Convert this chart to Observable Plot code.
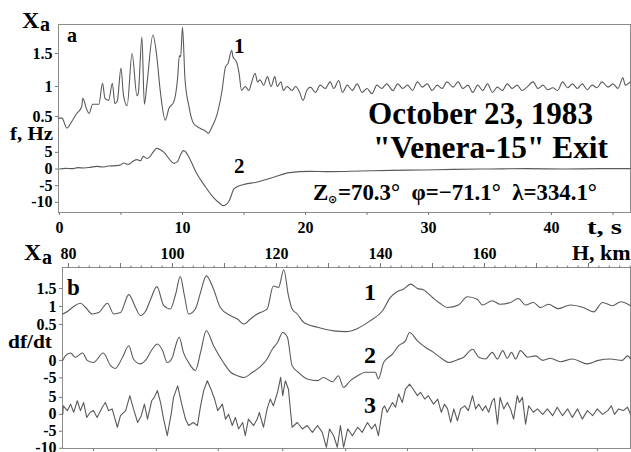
<!DOCTYPE html>
<html><head><meta charset="utf-8">
<script src="https://cdn.jsdelivr.net/npm/d3@7"></script>
<script src="https://cdn.jsdelivr.net/npm/@observablehq/plot@0.6"></script>
<style>
html,body{margin:0;padding:0;background:#fff;}
#wrap{position:relative;width:631px;height:452px;overflow:hidden;background:#fff;}
#wrap svg{position:absolute;left:0;}
</style></head><body><div id="wrap"></div>
<script>
// ---------- Panel a: curve 1 (Xa vs t, s) ----------
const aT1 = [-0.1,0.2,0.6,1.0,1.4,1.8,1.9,2.2,2.4,2.7,3.2,3.5,3.7,4.0,4.3,4.5,4.7,5.0,5.2,5.5,5.9,6.3,6.4,6.7,6.9,7.1,7.6,7.9,8.2,8.6,8.9,9.3,9.6,9.75,9.85,10.0,10.2,10.5,10.9,11.5,11.9,12.1,12.4,12.8,13.2,13.5,13.7,14.0,14.1,14.4,14.6,14.8,15.1,15.4,15.6,15.9,16.1,16.3,16.6,16.9,17.2,17.5,17.7,18.0,18.2,18.5,18.9,19.2,19.5,19.8,20.1,20.4,20.8,21.2,21.6,22.0,22.3,22.7,23.0,23.4,23.8,24.2,24.6,25.0,25.4,25.8,26.2,26.6,27.1,27.5,27.9,28.3,28.7,29.1,29.5,29.9,30.3,30.7,31.1,31.5,32.0,32.4,32.8,33.2,33.6,34.0,34.4,34.8,35.2,35.6,36.0,36.4,36.8,37.2,37.6,38.0,38.5,38.9,39.3,39.7,40.1,40.5,40.9,41.3,41.7,42.1,42.5,42.9,43.3,43.7,44.1,44.6,45.0,45.4,45.8,46.0,46.4];
const aX1 = [0.52,0.52,0.37,0.47,0.59,0.69,0.82,0.66,0.59,0.73,0.73,1.05,0.82,0.79,1.05,0.74,0.78,1.28,0.87,0.71,1.50,0.86,0.89,1.75,0.73,1.02,1.78,1.47,0.92,0.49,0.67,0.77,1.12,1.47,1.45,1.90,1.12,0.72,0.44,0.36,0.32,0.29,0.39,0.57,0.92,1.30,1.35,1.55,1.45,1.37,1.20,0.94,1.00,0.94,1.05,1.20,1.07,1.10,1.02,1.15,1.00,1.15,1.00,1.07,0.94,1.00,0.94,1.00,0.92,0.79,0.94,0.99,0.91,1.02,0.97,1.07,0.97,1.09,0.91,1.02,0.94,1.04,0.91,0.97,0.89,1.02,0.97,1.04,0.94,1.04,0.97,1.02,0.94,1.07,0.99,1.04,0.94,1.02,0.97,1.07,0.99,1.07,0.97,1.02,0.91,1.02,0.94,1.04,0.91,0.99,0.94,1.04,0.97,1.02,0.94,0.99,1.07,0.97,1.02,0.95,0.98,0.94,1.07,0.98,1.04,0.97,1.04,0.95,1.02,0.98,1.07,0.99,1.04,0.97,1.13,1.02,1.07];
// ---------- Panel a: curve 2 (f, Hz vs t, s) ----------
const aT2 = [0,0.5,1.0,1.5,2.0,2.5,3.0,3.5,4.0,4.6,5.0,5.2,5.6,6.0,6.3,6.6,6.8,7.1,7.3,7.6,7.9,8.2,8.5,8.9,9.3,9.6,9.8,10.1,10.6,11.1,11.8,12.5,13.0,13.3,13.8,14.2,14.9,16.0,17.4,18.7,20.3,22.0,24.5,27.0,29.5,32.0,35.0,38.0,41.0,44.0,46.4];
const aF2 = [0.0,0.2,0.1,0.4,0.3,0.5,0.8,0.6,0.9,1.0,1.3,1.8,1.4,2.4,2.8,2.5,3.8,3.2,3.5,5.0,6.2,5.8,5.0,3.1,1.7,2.2,4.0,5.5,3.0,-1.0,-5.0,-8.5,-10.2,-11.0,-9.5,-5.9,-4.7,-4.0,-2.5,-1.1,-0.7,-0.8,-0.6,-0.4,-0.3,-0.1,0.0,0.1,0.0,0.1,0.1];
// ---------- Panel b: altitude H, km ----------
const bH1 = [78.9,79.8,81.0,82.3,83.3,84.6,85.8,87.5,88.7,90.0,91.6,92.9,93.8,94.8,95.8,97.0,98.3,99.6,100.6,101.5,102.3,103.1,104.4,105.4,106.5,107.9,109.2,111.2,112.5,113.7,115.0,116.3,116.9,118.2,119.4,120.4,121.4,122.3,123.0,124.0,125.2,127.9,131.0,133.3,135.6,138.0,140.4,141.9,143.2,144.4,145.8,147.1,148.3,150.0,151.5,152.9,155.0,156.7,158.6,159.6,161.5,163.0,165.0,166.5,167.9,169.4,170.8,172.3,174.2,176.5,179.0,181.0,182.7,184.6,186.2,188.1];
const bX1 = [0.79,0.86,1.00,1.09,0.97,0.79,0.83,1.09,0.79,0.83,1.33,0.97,0.75,0.86,1.20,1.55,1.03,0.93,1.34,1.83,1.30,0.79,0.93,1.39,1.85,1.48,0.97,0.74,0.65,0.51,0.65,0.79,0.83,0.93,1.57,1.53,2.02,1.30,0.93,0.79,0.56,0.42,0.32,0.30,0.39,0.60,0.88,1.25,1.41,1.48,1.62,1.50,1.46,1.25,1.08,0.97,1.04,1.27,1.20,1.04,1.16,1.06,1.11,1.22,1.04,1.11,0.97,1.06,0.94,1.04,0.97,0.85,1.11,1.02,1.13,1.02];
const bH2 = [78.9,79.4,80.4,81.3,82.7,83.6,84.8,86.7,88.1,89.0,90.4,91.6,92.5,93.8,94.8,96.2,97.1,98.1,99.0,100.0,100.6,101.3,102.1,103.1,104.4,105.4,106.5,107.9,109.8,111.2,112.5,113.7,115.4,116.7,118.2,119.2,120.2,121.2,122.1,123.0,124.2,125.9,127.9,129.0,130.8,131.9,132.9,134.2,135.6,137.1,139.0,139.6,140.6,142.3,143.5,144.8,145.6,147.1,148.7,150.2,151.9,153.1,154.8,156.0,157.7,158.9,160.2,161.5,162.5,163.5,164.4,165.2,166.0,166.9,168.3,169.8,171.2,172.7,174.6,176.9,179.8,181.9,184.2,186.5,187.5,188.1];
const bD2 = [0.0,1.3,2.1,0.9,2.1,0.0,-0.6,2.1,-1.5,-2.3,0.9,4.2,0.4,-1.0,0.0,3.4,4.7,2.8,-0.6,0.9,4.2,6.6,2.3,-0.6,-2.9,2.3,8.5,4.2,-0.6,-3.4,-4.4,-4.9,-3.4,-2.0,0.4,3.2,5.1,8.0,6.6,-1.5,-3.4,-5.3,-5.8,-4.9,-6.1,-4.4,-7.7,-5.8,-4.4,-3.4,-3.4,-5.3,-0.6,1.8,4.2,5.6,8.0,5.6,3.7,2.3,0.4,-0.6,0.2,0.9,3.2,0.9,0.4,2.3,0.4,2.8,0.6,2.3,0.4,2.8,0.9,1.3,0.0,0.6,-0.4,0.4,-1.0,0.0,0.4,0.0,1.3,0.4];
const bH3 = [78.9,79.0,79.8,80.4,81.0,81.7,82.3,82.9,83.5,84.2,84.8,85.5,86.5,87.1,87.7,88.4,89.4,90.0,91.0,91.8,92.5,93.3,94.0,94.6,95.2,96.0,96.5,97.1,97.7,98.3,99.0,99.8,100.2,101.0,101.7,102.5,103.1,104.0,104.8,105.4,106.0,106.7,107.5,108.1,108.7,109.6,110.2,110.8,111.5,112.1,112.7,113.5,114.0,114.6,115.6,116.3,116.7,117.5,118.2,118.8,119.4,120.2,120.8,121.2,121.7,122.3,123.0,124.0,125.0,125.9,126.9,127.9,128.8,129.6,130.2,131.0,131.7,132.3,132.9,133.7,134.6,135.6,136.5,137.5,138.3,139.0,139.6,140.4,140.8,141.3,142.3,142.9,143.5,144.2,144.8,145.6,146.3,147.1,147.7,148.5,149.2,150.2,151.0,151.7,152.3,152.9,153.5,154.1,154.8,155.4,156.2,156.9,157.7,158.3,158.9,159.6,160.2,160.8,161.5,161.9,162.5,163.0,163.7,164.4,165.0,165.6,166.3,166.7,167.3,167.9,168.5,169.4,170.2,171.2,172.1,173.1,174.0,175.0,176.0,176.9,177.9,178.8,179.8,180.8,181.7,182.7,183.7,184.4,185.0,185.8,186.7,187.5,188.1];
const bD3 = [0.0,2.5,1.1,3.0,0.6,4.0,1.1,3.5,-0.9,0.6,1.1,-0.9,2.1,3.5,1.1,1.6,-3.8,-0.4,1.1,5.5,1.6,-2.4,-0.4,3.0,-1.4,4.0,5.0,7.0,3.5,-1.4,-6.3,0.6,5.0,8.4,3.5,-1.4,-3.3,-2.4,-3.3,2.5,7.0,9.9,7.0,4.5,1.1,3.0,-1.4,0.0,-3.3,-0.9,-4.3,-2.4,-6.3,-1.4,-3.3,-1.4,0.6,-3.8,1.6,4.5,2.5,6.5,10.9,5.5,9.9,7.4,-3.8,-2.4,-4.3,-3.3,-5.3,-3.3,-5.3,-9.7,-4.3,-6.3,-9.7,-3.3,-9.7,-4.3,-6.3,-3.8,-5.3,-2.4,-4.3,-2.9,-6.3,1.6,2.5,0.6,3.5,2.1,6.0,3.5,7.4,8.9,7.4,5.5,6.5,4.5,5.5,3.0,4.5,0.6,3.0,1.6,-2.4,1.6,-1.9,1.6,2.5,1.1,5.5,1.6,3.0,1.1,2.5,0.6,4.0,4.7,-2.9,5.0,1.6,3.5,1.6,-1.4,5.5,3.5,5.0,-2.9,2.5,0.6,1.6,0.0,1.6,-0.4,2.1,-0.4,1.6,-0.9,1.6,-1.4,1.1,-0.4,1.6,0.0,1.1,2.5,0.0,1.6,1.1,2.1,0.0];
// ---------- Axis ticks ----------
const aXaTicks = [1.5, 1, 0.5];
const aXaLabels = ["1.5", "1", "0.5"];
const aFTicks = [5, 0, -5, -10];
const aFLabels = ["5", "0", "-5", "-10"];
const aTTicks = [0,5,10,15,20,25,30,35,40,45];
const aTLabels = [0,10,20,30,40];
const bXaTicks = [1.5, 1, 0.5];
const bXaLabels = ["1.5", "1", "0.5"];
const bD2Ticks = [0, -5];
const bD2Labels = ["0", "-5"];
const bD3Ticks = [5, 0, -5, -10];
const bD3Labels = ["5", "0", "-5", "-10"];
const bHMinor = d3.range(80, 189, 2);
const bHMajor = [80,90,100,110,120,130,140,150,160,170,180];
const bHLabels = [80,100,120,140,160];
const bBottomTicks = [84.8,96.9,108.8,121.2,133.3,145.2,157.7,169.8,181.7];

// ---------- layout: shared vertical offsets (in Xa units) ----------
const fToU = f => -0.25 + 0.0505 * f;       // panel a, curve 2
const d2ToU = d => -0.5 + 0.0972 * d;       // panel b, curve 2
const d3ToU = d => -2.0 + 0.0944 * d;       // panel b, curve 3

const LINE = "#5a5a5a", FRAME = "#8c8c8c", TICK = "#777";
const SERIF = "'Liberation Serif', 'Times New Roman', serif";
const FONT = {fontFamily: SERIF, fontSize: "16px", fontWeight: "bold", color: "#000", background: "transparent", overflow: "visible"};
const AXT = {fontFamily: SERIF, fontSize: 16, fontWeight: "bold", stroke: TICK, label: null};

const a1 = aT1.map((t, i) => ({t, v: aX1[i]}));
const a2 = aT2.map((t, i) => ({t, v: aF2[i]}));
const b1 = bH1.map((h, i) => ({h, v: bX1[i]}));
const b2 = bH2.map((h, i) => ({h, v: bD2[i]}));
const b3 = bH3.map((h, i) => ({h, v: bD3[i]}));

// panel a: upper (Xa 1.5, 1) and the 0.5 label nudged up as in the original; f ticks
const aTickMain = [aXaTicks[0], aXaTicks[1], ...aFTicks.map(fToU)];
const aTickL = new Map([...aXaTicks, ...aFTicks.map(fToU)].map((u, i) => [u, [...aXaLabels, ...aFLabels][i]]));
const bTickU = [...bXaTicks, ...bD2Ticks.map(d2ToU), ...bD3Ticks.map(d3ToU)];
const bTickL = new Map(bTickU.map((u, i) => [u, [...bXaLabels, ...bD2Labels, ...bD3Labels][i]]));

const panelA = Plot.plot({
  width: 631, height: 236,
  marginLeft: 58, marginRight: 1, marginTop: 24, marginBottom: 24,
  style: FONT,
  x: {domain: [-0.08, 46.42], label: null},
  y: {domain: [-0.909, 1.939], label: null},
  marks: [
    Plot.frame({stroke: FRAME}),
    Plot.line(a1, {x: "t", y: "v", stroke: LINE, strokeWidth: 1.1, curve: "monotone-x"}),
    Plot.line(a2, {x: "t", y: d => fToU(d.v), stroke: LINE, strokeWidth: 1.1, curve: "monotone-x"}),
    Plot.axisY(aTickMain, {...AXT, anchor: "left", tickSize: 3, tickPadding: 3, tickFormat: u => aTickL.get(u)}),
    Plot.axisY([aXaTicks[2]], {...AXT, anchor: "left", tickSize: 3, tickPadding: 3, dy: -3, tickFormat: u => aTickL.get(u)}),
    Plot.axisX(aTTicks, {...AXT, anchor: "bottom", tickSize: 3, tickPadding: 6, tickFormat: t => aTLabels.includes(t) ? String(t) : ""})
  ]
});

const panelB = Plot.plot({
  width: 631, height: 216,
  marginLeft: 62, marginRight: 1, marginTop: 31, marginBottom: 4,
  style: FONT,
  x: {domain: [78.85, 188.08], label: null},
  y: {domain: [-2.95, 2.083], label: null},
  marks: [
    Plot.frame({stroke: FRAME}),
    Plot.line(b1, {x: "h", y: "v", stroke: LINE, strokeWidth: 1.1, curve: "monotone-x"}),
    Plot.line(b2, {x: "h", y: d => d2ToU(d.v), stroke: LINE, strokeWidth: 1.1, curve: "monotone-x"}),
    Plot.line(b3, {x: "h", y: d => d3ToU(d.v), stroke: LINE, strokeWidth: 1.1}),
    Plot.axisY(bTickU, {...AXT, anchor: "left", tickSize: 3, tickPadding: 3, tickFormat: u => bTickL.get(u)}),
    Plot.axisX(bHMinor, {...AXT, anchor: "top", tickSize: 2.5, tickFormat: () => ""}),
    Plot.axisX(bHMajor, {...AXT, anchor: "top", tickSize: 5, tickPadding: 4, tickFormat: h => bHLabels.includes(h) ? String(h) : ""}),
    Plot.axisX(bBottomTicks, {...AXT, anchor: "bottom", tickSize: 3, tickFormat: () => ""})
  ]
});

for (const p of [panelA, panelB]) {
  d3.select(p).selectAll("text")
    .style("font-family", SERIF).style("font-weight", "bold").style("font-size", "16px").attr("fill", "#000");
}

const wrap = document.getElementById("wrap");
panelA.style.top = "0px";
panelB.style.top = "236px";
wrap.appendChild(panelA);
wrap.appendChild(panelB);

// ---------- text annotations ----------
const notes = [
  {t: "X", x: 22, y: 28, s: 24},
  {t: "a", x: 40, y: 31, s: 20},
  {t: "X", x: 24, y: 260, s: 24},
  {t: "a", x: 42, y: 264, s: 20},
  {t: "f, Hz", x: 10, y: 140, s: 18, len: 43},
  {t: "df/dt", x: 8, y: 348, s: 18, len: 44},
  {t: "a", x: 67, y: 42, s: 20},
  {t: "b", x: 67, y: 295, s: 23},
  {t: "1", x: 234, y: 53, s: 21},
  {t: "2", x: 234, y: 173, s: 21},
  {t: "1", x: 364, y: 300, s: 24},
  {t: "2", x: 364, y: 363, s: 24},
  {t: "3", x: 364, y: 413, s: 24},
  {t: "t, s", x: 587, y: 234, s: 20, len: 35},
  {t: "H, km", x: 572, y: 260, s: 22},
  {t: "October 23, 1983", x: 368, y: 124, s: 31, len: 225},
  {t: "\"Venera-15\" Exit", x: 373, y: 158, s: 31, len: 235},
  {t: "Z", x: 313, y: 200, s: 23},
  {t: "\u2299", x: 328, y: 203, s: 11, f: "'DejaVu Sans', sans-serif"},
  {t: "=70.3\u00B0  \u03C6=\u221271.1\u00B0  \u03BB=334.1\u00B0", x: 338, y: 200, s: 23, len: 259}
];
const ov = d3.create("svg").attr("width", 631).attr("height", 452).style("top", "0px").style("pointer-events", "none");
for (const n of notes) {
  const el = ov.append("text").attr("x", n.x).attr("y", n.y)
    .attr("font-family", n.f || SERIF)
    .attr("font-weight", "bold").attr("font-size", n.s).attr("fill", "#000")
    .style("white-space", "pre").text(n.t);
  if (n.len) el.attr("textLength", n.len).attr("lengthAdjust", "spacingAndGlyphs");
}
wrap.appendChild(ov.node());
</script></body></html>
